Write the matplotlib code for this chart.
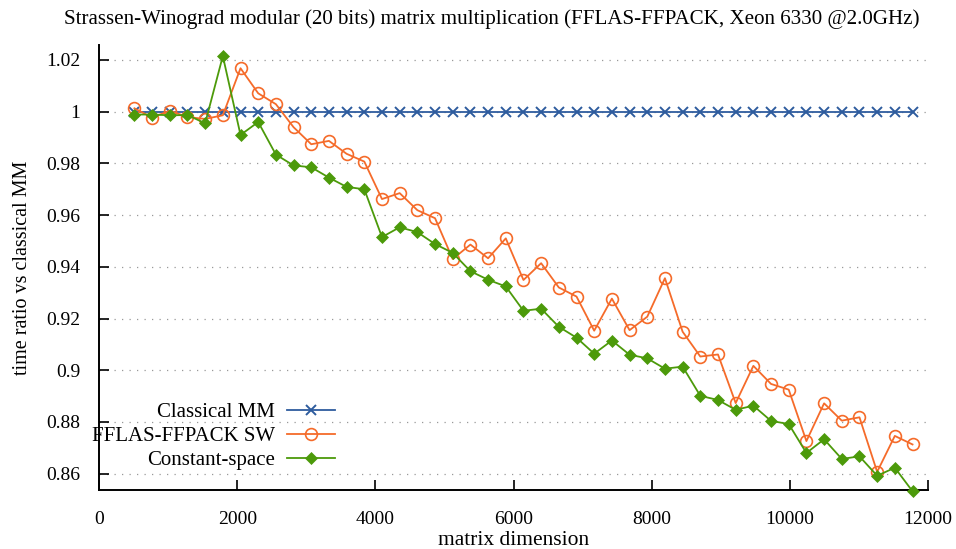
import matplotlib
matplotlib.use("Agg")
import matplotlib.pyplot as plt
import numpy as np

# matrix dimensions (every 256 from 512)
dims = [512, 768, 1024, 1280, 1536, 1792, 2048, 2304, 2560, 2816,
        3072, 3328, 3584, 3840, 4096, 4352, 4608, 4864, 5120, 5376,
        5632, 5888, 6144, 6400, 6656, 6912, 7168, 7424, 7680, 7936,
        8192, 8448, 8704, 8960, 9216, 9472, 9728, 9984, 10240, 10496,
        10752, 11008, 11264, 11520, 11776]

classical = [1.0] * len(dims)

fflas_sw = [1.0013, 0.9977, 1.0004, 0.9979, 0.9972, 0.9986, 1.0168, 1.0071, 1.0029, 0.9940,
            0.9874, 0.9887, 0.9837, 0.9807, 0.9662, 0.9685, 0.9619, 0.9588, 0.9430, 0.9486,
            0.9433, 0.9510, 0.9349, 0.9414, 0.9320, 0.9285, 0.9153, 0.9277, 0.9155, 0.9207,
            0.9356, 0.9149, 0.9053, 0.9061, 0.8873, 0.9017, 0.8947, 0.8925, 0.8726, 0.8872,
            0.8805, 0.8818, 0.8607, 0.8746, 0.8713]

const_space = [0.9989, 0.9989, 0.9986, 0.9987, 0.9955, 1.0215, 0.9910, 0.9960, 0.9834, 0.9792,
               0.9785, 0.9745, 0.9709, 0.9700, 0.9515, 0.9553, 0.9534, 0.9488, 0.9454, 0.9383,
               0.9350, 0.9324, 0.9230, 0.9238, 0.9168, 0.9126, 0.9064, 0.9115, 0.9060, 0.9046,
               0.9006, 0.9014, 0.8901, 0.8885, 0.8847, 0.8863, 0.8804, 0.8792, 0.8680, 0.8733,
               0.8657, 0.8667, 0.8592, 0.8623, 0.8532]

yticks = [0.86, 0.88, 0.9, 0.92, 0.94, 0.96, 0.98, 1.0, 1.02]
ytick_labels = ["0.86", "0.88", "0.9", "0.92", "0.94", "0.96", "0.98", "1", "1.02"]
xticks = [0, 2000, 4000, 6000, 8000, 10000, 12000]

plt.rcParams["font.family"] = ["Liberation Serif", "DejaVu Serif"]
plt.rcParams["font.size"] = 14

fig = plt.figure(figsize=(9.56, 5.49), dpi=100)
ax = fig.add_axes([0.1036, 0.1066, 0.8671, 0.8115])

ax.plot(dims, classical, color="#2e5c9e", lw=1.3, marker="x", ms=6.5, mew=1.4,
        label="Classical MM", clip_on=False, zorder=3)
ax.plot(dims, fflas_sw, color="#f56b2a", lw=1.3, marker="o", ms=8.5, mew=1.2,
        mfc="none", label="FFLAS-FFPACK SW", clip_on=False, zorder=4)
ax.plot(dims, const_space, color="#4c9a0a", lw=1.3, marker="D", ms=6, mew=0.5,
        label="Constant-space", clip_on=False, zorder=5)

ax.set_xlim(0, 12000)
ax.set_ylim(0.8535, 1.0258)
ax.set_xticks(xticks)
ax.set_xticklabels([str(t) for t in xticks])
ax.set_yticks(yticks)
ax.set_yticklabels(ytick_labels)
ax.tick_params(direction="in", length=7, width=1.2, labelsize=14)
ax.tick_params(axis="x", pad=15)
ax.tick_params(axis="y", pad=13.5)
ax.grid(True, axis="y", linestyle=(0, (1, 5)), color="#999999", lw=0.9)

for side in ("top", "right"):
    ax.spines[side].set_visible(False)
for side in ("left", "bottom"):
    ax.spines[side].set_linewidth(1.4)

ax.set_xlabel("matrix dimension", fontsize=15.5, labelpad=2)
ax.set_ylabel("time ratio vs classical MM", fontsize=14.5, labelpad=10)
fig.text(491.5 / 956, 1 - 19 / 549,
         "Strassen-Winograd modular (20 bits) matrix multiplication (FFLAS-FFPACK, Xeon 6330 @2.0GHz)",
         ha="center", va="center", fontsize=15.1)

leg = ax.legend(loc="lower right", bbox_to_anchor=(0.2847, 0.046), frameon=False,
                markerfirst=False, fontsize=15, handlelength=2.3, labelspacing=0.2,
                handletextpad=0.6, borderaxespad=0, borderpad=0)
for t in leg.get_texts():
    t.set_ha("right")
leg._legend_box.align = "right"

fig.savefig("out.png", dpi=100)
